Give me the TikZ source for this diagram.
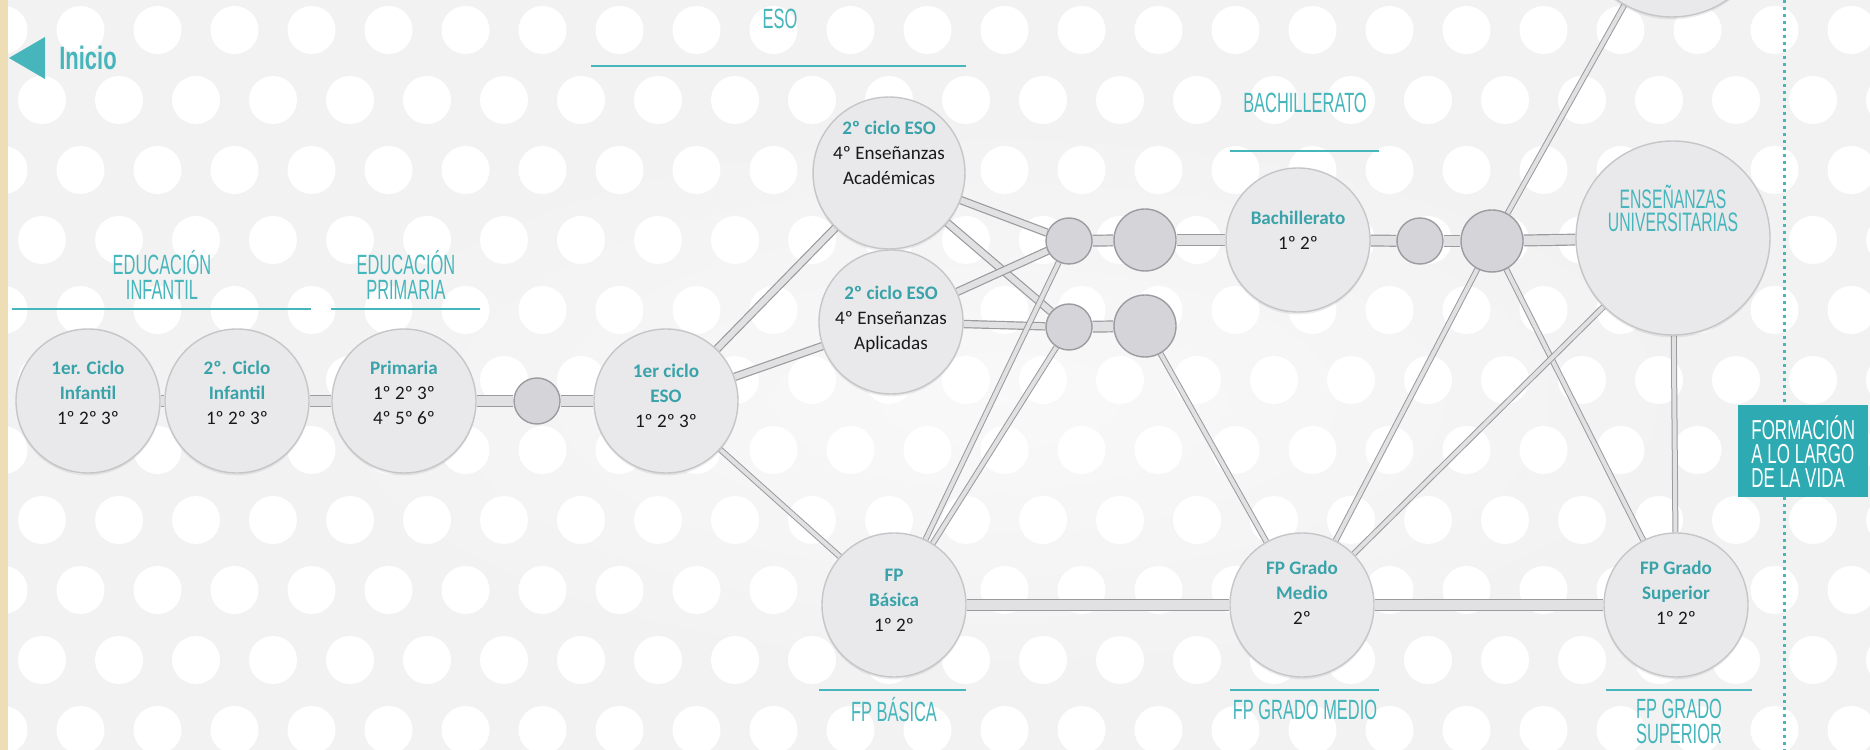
\documentclass[tikz,border=0pt]{standalone}
\usepackage{fontspec}
\setmainfont{Carlito}
\newfontfamily\condfont{Liberation Sans}
\usepackage{graphicx}
\usetikzlibrary{shadows,positioning,fadings}

\pgfdeclarelayer{back}
\pgfdeclarelayer{tubes}
\pgfsetlayers{back,tubes,main}

\tikzfading[name=softglow, inner color=transparent!0, outer color=transparent!100]

\definecolor{eduteal}{RGB}{70,182,188}
\definecolor{nodeteal}{RGB}{58,163,170}
\definecolor{boxteal}{RGB}{46,170,178}
\definecolor{paper}{RGB}{242,242,242}
\definecolor{sidestrip}{RGB}{238,222,182}
\definecolor{nodefill}{RGB}{233,233,235}
\definecolor{nodeedge}{RGB}{198,198,201}
\definecolor{jointfill}{RGB}{213,213,217}
\definecolor{jointedge}{RGB}{155,155,161}
\definecolor{tubeedge}{RGB}{155,155,158}
\definecolor{tubefill}{RGB}{225,225,227}

\newcommand{\nw}[2][0.59]{\scalebox{#1}[1]{#2}}
\newcommand{\tealtxt}[1]{\textcolor{nodeteal}{\bfseries #1}}
\newcommand{\txtlift}[1]{\\[#1]\mbox{}}

\begin{document}
\begin{tikzpicture}[x=0.25mm, y=-0.25mm,
  stage/.style={circle, fill=nodefill, draw=nodeedge, line width=0.35mm, minimum size=36mm,
    inner sep=0pt, align=center, text=black!90, font=\fontsize{13.6}{17.8}\selectfont,
    drop shadow={opacity=0.15, shadow xshift=0mm, shadow yshift=-0.6mm}},
  joint/.style={circle, fill=jointfill, draw=jointedge, line width=0.35mm, inner sep=0pt, minimum size=11.5mm},
  bigjoint/.style={joint, minimum size=15.5mm},
  stagetitle/.style={text=eduteal, font=\condfont\fontsize{19.8}{17.7}\selectfont, align=center, inner sep=0pt},
  barline/.style={eduteal, line width=0.6mm},
  tube/.style={draw=tubeedge, line width=0.3mm, double=tubefill, double distance=2.4mm},
  midtube/.style={tube, double distance=1.5mm},
  thintube/.style={tube, line width=0.25mm, double distance=1.0mm}]
  % Define dimensions
  \useasboundingbox (0,0) rectangle (1870,750);
  \clip (0,0) rectangle (1870,750);

  % Draw background
  \begin{pgfonlayer}{back}
    \fill[paper] (0,0) rectangle (1870,750);
    \foreach \k in {0,...,10} {%
      \foreach \j in {0,...,24} {%
        \fill[white] ({3.5+38.5*mod(\k,2)+77*\j}, {30+70*\k}) circle (6mm);
      }
    }
    \fill[white, opacity=0.55, path fading=softglow] (1000,400) ellipse (190mm and 75mm);
    \fill[sidestrip] (0,0) rectangle (8,750);
  \end{pgfonlayer}

  % Inicio
  \fill[eduteal] (9,58) -- (45,37) -- (45,79) -- cycle;
  \node[text=eduteal, font=\condfont\bfseries\fontsize{23}{22}\selectfont, inner sep=0pt, anchor=west]
    (inicio) at (59,58) {\nw[0.68]{Inicio}};

  % Titles
  \node[stagetitle] (hinf) at (162,275) {\nw{EDUCACIÓN}\\\nw{INFANTIL}};
  \node[stagetitle] (hprim) at (406,275) {\nw{EDUCACIÓN}\\\nw{PRIMARIA}};
  \node[stagetitle] (heso) at (780,19) {\nw{ESO}};
  \node[stagetitle] (hbach) at (1305,103) {\nw{BACHILLERATO}};
  \node[stagetitle] (hfpb) at (894,710) {\nw{FP BÁSICA}};
  \node[stagetitle] (hfpgm) at (1305,710) {\nw{FP GRADO MEDIO}};
  \node[stagetitle] (hfpgs) at (1679,721) {\nw{FP GRADO}\\\nw{SUPERIOR}};
  \draw[barline] (12,309) -- (311,309);
  \draw[barline] (331,309) -- (480,309);
  \draw[barline] (591,66) -- (966,66);
  \draw[barline] (1230,151) -- (1379,151);
  \draw[barline] (819,690) -- (966,690);
  \draw[barline] (1230,690) -- (1379,690);
  \draw[barline] (1606,690) -- (1752,690);

  % Define stages
  \node[stage] (inf1) at (88,401) {\tealtxt{1er. Ciclo}\\\tealtxt{Infantil}\\1º 2º 3º\txtlift{-6.5pt}};
  \node[stage] (inf2) at (237,401) {\tealtxt{2º. Ciclo}\\\tealtxt{Infantil}\\1º 2º 3º\txtlift{-6.5pt}};
  \node[stage] (prim) at (404,401) {\tealtxt{Primaria}\\1º 2º 3º\\4º 5º 6º\txtlift{-6.5pt}};
  \node[joint] (s0) at (537,401) {};
  \node[stage] (eso1) at (666,401) {\tealtxt{1er ciclo}\\\tealtxt{ESO}\\1º 2º 3º\txtlift{-10.7pt}};
  \node[stage] (aca) at (889,173) {\tealtxt{2º ciclo ESO}\\4º Enseñanzas\\Académicas\txtlift{10.5pt}};
  \node[stage] (apl) at (891,322) {\tealtxt{2º ciclo ESO}\\4º Enseñanzas\\Aplicadas\txtlift{-11.5pt}};
  \node[joint] (s1) at (1069,241) {};
  \node[bigjoint] (c1) at (1145,240) {};
  \node[joint] (s2) at (1069,327) {};
  \node[bigjoint] (c2) at (1145,326) {};
  \node[stage] (bach) at (1298,240) {\tealtxt{Bachillerato}\\1º 2º\txtlift{-3.6pt}};
  \node[joint] (s3) at (1420,241) {};
  \node[bigjoint] (c3) at (1492,241) {};
  \node[stage, minimum size=48.5mm, text=eduteal, font=\condfont\fontsize{19}{16.5}\selectfont]
    (univ) at (1673,238) {\nw{ENSEÑANZAS}\\\nw{UNIVERSITARIAS}\txtlift{26pt}};
  \node[stage, minimum size=48.5mm] (topnode) at (1672,-80) {};
  \node[stage] (fpb) at (894,605) {\tealtxt{FP}\\\tealtxt{Básica}\\1º 2º\txtlift{-10.7pt}};
  \node[stage] (fpgm) at (1302,605) {\tealtxt{FP Grado}\\\tealtxt{Medio}\\2º\txtlift{0pt}};
  \node[stage] (fpgs) at (1676,605) {\tealtxt{FP Grado}\\\tealtxt{Superior}\\1º 2º\txtlift{0pt}};

  % Draw tubes
  \begin{pgfonlayer}{tubes}
    \foreach \a/\b in {inf1/inf2, inf2/prim, prim/s0, s0/eso1, s1/c1, c1/bach, s2/c2,
                       bach/s3, s3/c3, c3/univ, fpb/fpgm, fpgm/fpgs}
      \draw[tube] (\a) -- (\b);
    \foreach \a/\b in {eso1/aca, eso1/apl, aca/s1, aca/s2, apl/s1, apl/s2}
      \draw[midtube] (\a) -- (\b);
    \foreach \a/\b in {eso1/fpb, fpb/s1, fpb/s2, c2/fpgm, c3/fpgm, c3/fpgs,
                       univ/fpgm, univ/fpgs, c3/topnode}
      \draw[thintube] (\a) -- (\b);
  \end{pgfonlayer}

  % Lifelong learning
  \draw[eduteal, line width=0.75mm, dash pattern=on 0.75mm off 1mm] (1784,0) -- (1784,750);
  \node[fill=boxteal, text=white, font=\condfont\fontsize{19.5}{17}\selectfont, align=left,
        minimum width=32.5mm, minimum height=23mm, inner sep=0pt, anchor=north west]
    (vida) at (1738,405) {\nw[0.62]{FORMACIÓN}\\\nw[0.62]{A LO LARGO}\\\nw[0.62]{DE LA VIDA}};
\end{tikzpicture}
\end{document}
